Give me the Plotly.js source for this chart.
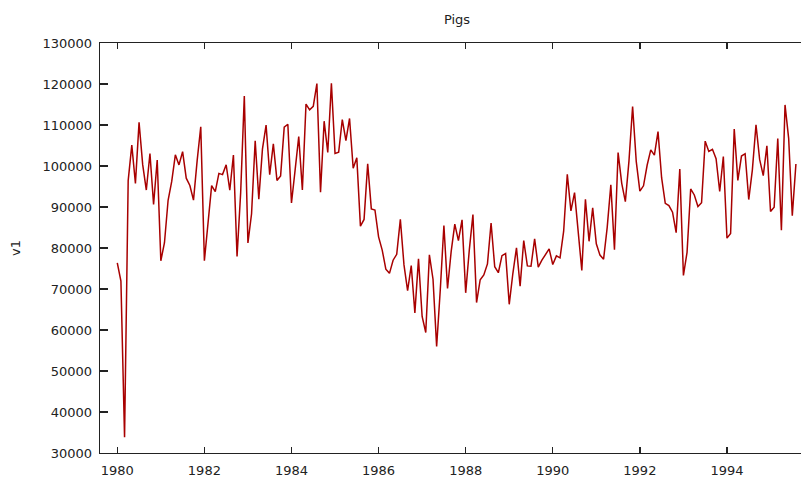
<!DOCTYPE html>
<html>
<head>
<meta charset="utf-8">
<script src="https://cdn.plot.ly/plotly-3.0.1.min.js"></script>
<style>
  html, body { margin: 0; padding: 0; background: #fff; overflow: hidden; }
  #chart { width: 801px; height: 477px; }
</style>
</head>
<body>
<div id="chart"></div>
<script>
// Monthly pigs slaughtered in Victoria, Jan 1980 – Aug 1995
const startYear = 1980;
const pigs1980 = [76378, 71947, 33873, 96428, 105084, 95741, 110647, 100331, 94133, 103055, 90595, 101457];
const pigs1981 = [76889, 81291, 91643, 96228, 102736, 100264, 103491, 97027, 95240, 91680, 101259, 109564];
const pigs1982 = [76892, 85773, 95210, 93771, 98202, 97906, 100306, 94089, 102680, 77919, 93561, 117062];
const pigs1983 = [81225, 88357, 106175, 91922, 104114, 109959, 97880, 105386, 96479, 97580, 109490, 110191];
const pigs1984 = [90974, 98981, 107188, 94177, 115097, 113696, 114532, 120110, 93607, 110925, 103312, 120184];
const pigs1985 = [103069, 103351, 111331, 106161, 111590, 99447, 101987, 85333, 86970, 100561, 89543, 89265];
const pigs1986 = [82719, 79498, 74846, 73819, 77029, 78446, 86978, 75878, 69571, 75722, 64182, 77357];
const pigs1987 = [63292, 59380, 78332, 72381, 55971, 69750, 85472, 70133, 79125, 85805, 81778, 86852];
const pigs1988 = [69069, 79556, 88174, 66698, 72258, 73445, 76131, 86082, 75443, 73969, 78139, 78646];
const pigs1989 = [66269, 73776, 80034, 70694, 81823, 75640, 75540, 82229, 75345, 77034, 78589, 79769];
const pigs1990 = [75982, 78074, 77588, 84100, 97966, 89051, 93503, 84747, 74531, 91900, 81635, 89797];
const pigs1991 = [81022, 78265, 77271, 85043, 95418, 79568, 103283, 95770, 91297, 101244, 114525, 101139];
const pigs1992 = [93866, 95171, 100183, 103926, 102643, 108387, 97077, 90901, 90336, 88732, 83759, 99267];
const pigs1993 = [73292, 78943, 94399, 92937, 90130, 91055, 106062, 103560, 104075, 101783, 93791, 102313];
const pigs1994 = [82413, 83534, 109011, 96499, 102430, 103002, 91815, 99067, 110067, 101599, 97646, 104930];
const pigs1995 = [88905, 89936, 106723, 84307, 114896, 106749, 87892, 100506];

const v1 = [].concat(pigs1980, pigs1981, pigs1982, pigs1983, pigs1984, pigs1985,
  pigs1986, pigs1987, pigs1988, pigs1989, pigs1990, pigs1991, pigs1992,
  pigs1993, pigs1994, pigs1995);
// monthly time index: year + (month - 1) / 12
const t = v1.map((_, i) => startYear + i / 12);

const xTicks = [1980, 1982, 1984, 1986, 1988, 1990, 1992, 1994];
const yTicks = [30000, 40000, 50000, 60000, 70000, 80000, 90000, 100000, 110000, 120000, 130000];

const font = { family: 'DejaVu Sans, Verdana, sans-serif', size: 13, color: '#222' };

Plotly.newPlot('chart', [{
  x: t,
  y: v1,
  type: 'scatter',
  mode: 'lines',
  line: { color: '#a80000', width: 1.5 },
  hoverinfo: 'skip'
}], {
  width: 801,
  height: 477,
  margin: { l: 100, r: 0, t: 43, b: 24 },
  paper_bgcolor: '#fff',
  plot_bgcolor: '#fff',
  font: font,
  showlegend: false,
  title: {
    text: 'Pigs',
    font: { family: font.family, size: 13, color: '#222' },
    xref: 'container', x: 457 / 801, xanchor: 'center',
    yref: 'container', y: 1 - 19 / 477, yanchor: 'middle'
  },
  xaxis: {
    range: [1979.603, 1995.7],
    tickvals: xTicks,
    ticktext: xTicks.map(String),
    ticks: 'inside',
    ticklen: 6,
    tickwidth: 1.3,
    tickcolor: '#222',
    ticklabelstandoff: 5,
    showline: true,
    linecolor: '#222',
    linewidth: 1.3,
    mirror: 'ticks',
    showgrid: false,
    zeroline: false
  },
  yaxis: {
    range: [30000, 130000],
    tickvals: yTicks,
    ticktext: yTicks.map(String),
    ticks: 'inside',
    ticklen: 8,
    tickwidth: 1.3,
    tickcolor: '#222',
    ticklabelstandoff: 4,
    showline: true,
    linecolor: '#222',
    linewidth: 1.3,
    showgrid: false,
    zeroline: false,
    title: { text: 'v1', font: font, standoff: 19 }
  }
}, { displayModeBar: false, staticPlot: true });
</script>
</body>
</html>
